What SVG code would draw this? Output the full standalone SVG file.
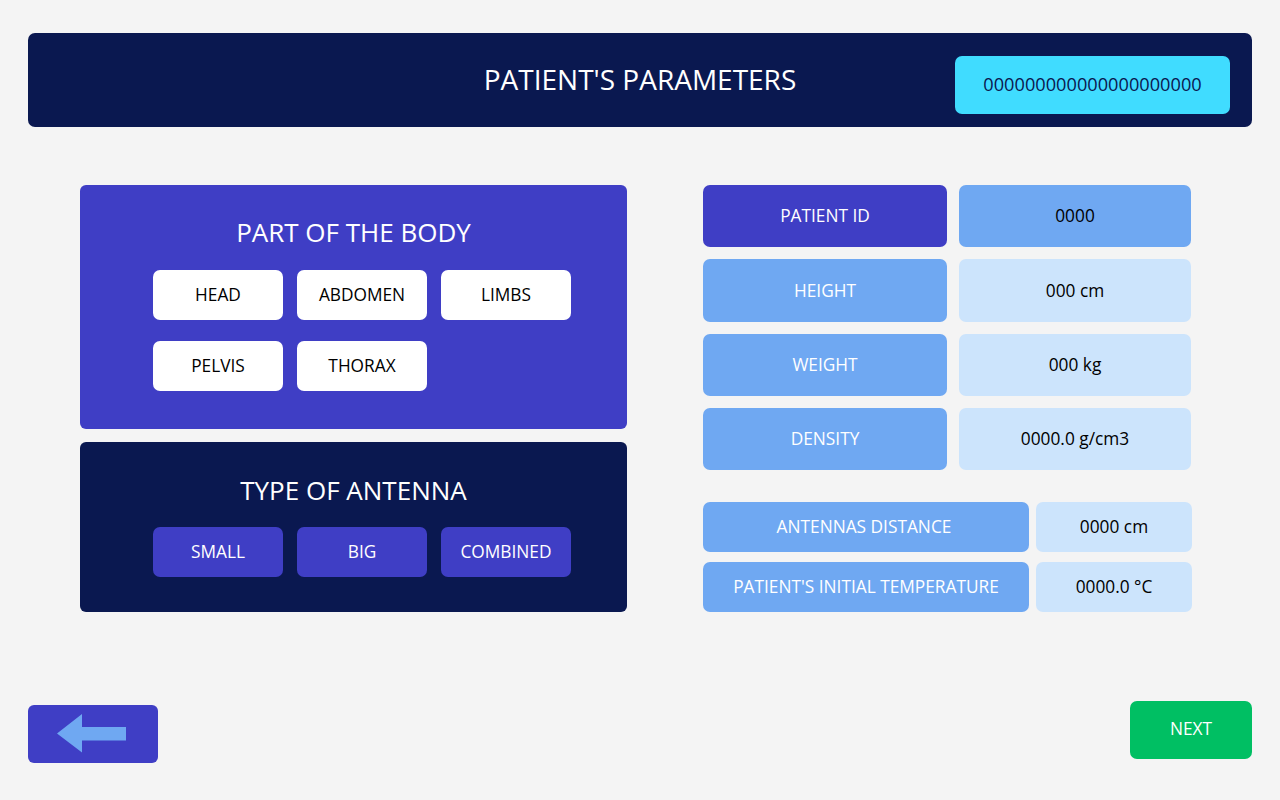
<svg xmlns="http://www.w3.org/2000/svg" width="1280" height="800" viewBox="0 0 1280 800">
<style>
text { font-family: "Open Sans", "Noto Sans", "Liberation Sans", sans-serif; text-anchor: middle; dominant-baseline: central; }
.w { fill: #ffffff; }
.k { fill: #000000; }
.title { font-size: 28px; }
.ptitle { font-size: 26px; }
.lbl { font-size: 17.3px; }
.indigo { fill: #3F3EC5; }
.navy { fill: #0A1850; }
.mid { fill: #6FA8F2; }
.pale { fill: #CCE4FC; }
.white { fill: #FFFFFF; }
</style>
<rect width="1280" height="800" fill="#F4F4F4"/>

<g id="header">
  <rect x="28" y="33" width="1224" height="94" rx="7" class="navy"/>
  <text x="640" y="79" class="w title">PATIENT'S PARAMETERS</text>
</g>
<g id="serial">
  <rect x="955" y="56" width="275" height="58" rx="7" fill="#40DCFF"/>
  <text x="1092.5" y="84" font-size="18.2px" fill="#0A1850">000000000000000000000</text>
</g>

<g id="part-of-body">
  <rect x="80" y="185" width="547" height="244" rx="6" class="indigo"/>
  <text x="353.5" y="232" class="w ptitle">PART OF THE BODY</text>
</g>
<g id="btn-head"><rect x="153" y="270" width="130" height="50" rx="7" class="white"/><text x="218" y="294" class="k lbl">HEAD</text></g>
<g id="btn-abdomen"><rect x="297" y="270" width="130" height="50" rx="7" class="white"/><text x="362" y="294" class="k lbl">ABDOMEN</text></g>
<g id="btn-limbs"><rect x="441" y="270" width="130" height="50" rx="7" class="white"/><text x="506" y="294" class="k lbl">LIMBS</text></g>
<g id="btn-pelvis"><rect x="153" y="341" width="130" height="50" rx="7" class="white"/><text x="218" y="365" class="k lbl">PELVIS</text></g>
<g id="btn-thorax"><rect x="297" y="341" width="130" height="50" rx="7" class="white"/><text x="362" y="365" class="k lbl">THORAX</text></g>

<g id="type-of-antenna">
  <rect x="80" y="442" width="547" height="170" rx="6" class="navy"/>
  <text x="353.5" y="490" class="w ptitle">TYPE OF ANTENNA</text>
</g>
<g id="btn-small"><rect x="153" y="527" width="130" height="50" rx="7" class="indigo"/><text x="218" y="551" class="w lbl">SMALL</text></g>
<g id="btn-big"><rect x="297" y="527" width="130" height="50" rx="7" class="indigo"/><text x="362" y="551" class="w lbl">BIG</text></g>
<g id="btn-combined"><rect x="441" y="527" width="130" height="50" rx="7" class="indigo"/><text x="506" y="551" class="w lbl">COMBINED</text></g>

<g id="patient-id">
  <rect x="703" y="185" width="244" height="62" rx="7" class="indigo"/><text x="825" y="215" class="w lbl">PATIENT ID</text>
  <rect x="959" y="185" width="232" height="62" rx="7" class="mid"/><text x="1075" y="215" class="k lbl">0000</text>
</g>
<g id="height">
  <rect x="703" y="259" width="244" height="63" rx="7" class="mid"/><text x="825" y="290" class="w lbl">HEIGHT</text>
  <rect x="959" y="259" width="232" height="63" rx="7" class="pale"/><text x="1075" y="290" class="k lbl">000 cm</text>
</g>
<g id="weight">
  <rect x="703" y="334" width="244" height="62" rx="7" class="mid"/><text x="825" y="364" class="w lbl">WEIGHT</text>
  <rect x="959" y="334" width="232" height="62" rx="7" class="pale"/><text x="1075" y="364" class="k lbl">000 kg</text>
</g>
<g id="density">
  <rect x="703" y="408" width="244" height="62" rx="7" class="mid"/><text x="825" y="438" class="w lbl">DENSITY</text>
  <rect x="959" y="408" width="232" height="62" rx="7" class="pale"/><text x="1075" y="438" class="k lbl">0000.0 g/cm3</text>
</g>
<g id="antennas-distance">
  <rect x="703" y="502" width="326" height="50" rx="7" class="mid"/><text x="864" y="526" class="w lbl">ANTENNAS DISTANCE</text>
  <rect x="1036" y="502" width="156" height="50" rx="7" class="pale"/><text x="1114" y="526" class="k lbl">0000 cm</text>
</g>
<g id="initial-temperature">
  <rect x="703" y="562" width="326" height="50" rx="7" class="mid"/><text x="866" y="586" class="w lbl">PATIENT'S INITIAL TEMPERATURE</text>
  <rect x="1036" y="562" width="156" height="50" rx="7" class="pale"/><text x="1114" y="586" class="k lbl">0000.0 °C</text>
</g>

<g id="back-button">
  <rect x="28" y="705" width="130" height="58" rx="6" class="indigo"/>
  <polygon points="57,733.5 82,714 82,727 126,727 126,740.5 82,740.5 82,752.5" class="mid"/>
</g>
<g id="next-button">
  <rect x="1130" y="701" width="122" height="58" rx="7" fill="#00BF63"/>
  <text x="1191" y="728" class="w lbl">NEXT</text>
</g>
<g id="connectors"></g>
</svg>
